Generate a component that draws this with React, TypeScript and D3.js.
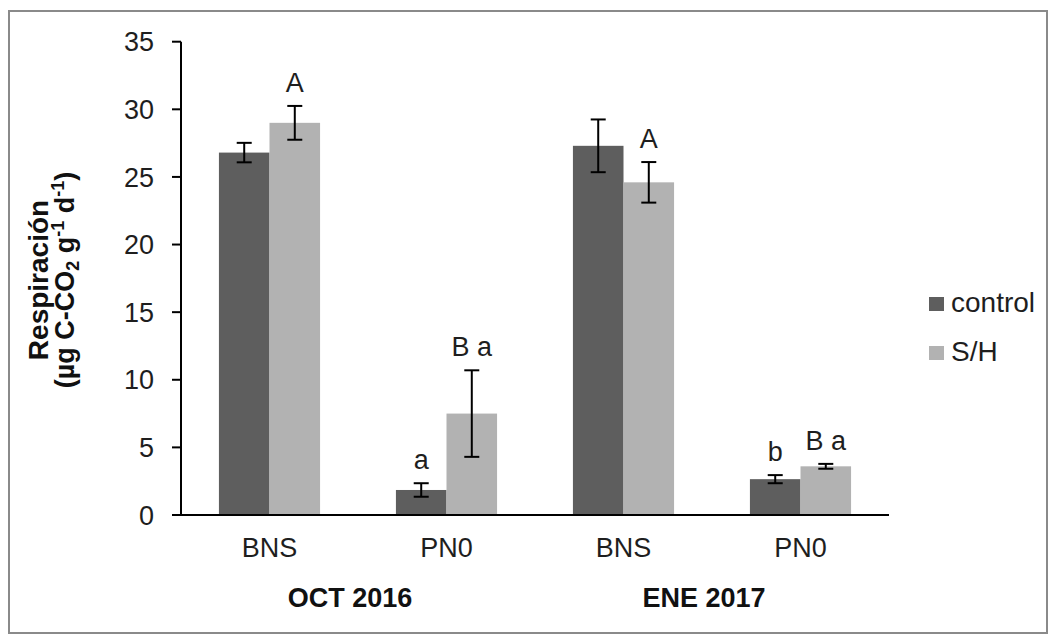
import React from "react";
import * as d3 from "d3";

// ---- data ----
const categoryIds = ["OCT-BNS", "OCT-PN0", "ENE-BNS", "ENE-PN0"];
const categoryLabels = ["BNS", "PN0", "BNS", "PN0"];
const groupLabels = ["OCT 2016", "ENE 2017"];
const groupSpans = [[0, 1], [2, 3]];
const seriesNames = ["control", "S/H"];
const controlValues = [26.8, 1.85, 27.3, 2.65];
const controlErrors = [0.72, 0.5, 1.95, 0.3];
const shValues = [29.0, 7.5, 24.6, 3.6];
const shErrors = [1.25, 3.2, 1.5, 0.18];
const controlLetters = ["", "a", "", "b"];
const shLetters = ["A", "B a", "A", "B a"];
const yTicks = [0, 5, 10, 15, 20, 25, 30, 35];

const seriesColors = ["#5e5e5e", "#b2b2b2"];
const FONT = "'Liberation Sans', Arial, sans-serif";

export default function App() {
  const W = 1055, H = 638;
  const left = 181, right = 889, top = 41.7, bottom = 515;

  const x0 = d3.scaleBand<string>().domain(categoryIds).range([left, right]).paddingInner(0).paddingOuter(0);
  const x1 = d3.scaleBand<string>().domain(seriesNames).range([0, x0.bandwidth()]).paddingInner(0).paddingOuter(0.75);
  const y = d3.scaleLinear().domain([0, 35]).range([bottom, top]);

  const series = [
    { name: seriesNames[0], values: controlValues, errors: controlErrors, letters: controlLetters, color: seriesColors[0] },
    { name: seriesNames[1], values: shValues, errors: shErrors, letters: shLetters, color: seriesColors[1] },
  ];

  const capW = 15;
  const labelGap = 14;
  const txt = "#1e1e1e";

  return (
    <svg width={W} height={H} style={{ position: "absolute", left: 0, top: 0, background: "#fff" }} fontFamily={FONT}>
      <rect x={9} y={11} width={1038} height={622} fill="#fff" stroke="#8a8a8a" strokeWidth={2} />

      {/* bars */}
      {series.map((s) =>
        categoryIds.map((c, i) => {
          const bx = (x0(c) as number) + (x1(s.name) as number);
          const bw = x1.bandwidth();
          const v = s.values[i];
          return (
            <rect key={s.name + c} x={bx} y={y(v)} width={bw} height={y(0) - y(v)} fill={s.color} />
          );
        })
      )}

      {/* error bars + letters */}
      {series.map((s) =>
        categoryIds.map((c, i) => {
          const cx = (x0(c) as number) + (x1(s.name) as number) + x1.bandwidth() / 2;
          const v = s.values[i];
          const e = s.errors[i];
          const yt = y(v + e), yb = y(v - e);
          return (
            <g key={"e" + s.name + c}>
              <line x1={cx} x2={cx} y1={yt} y2={yb} stroke="#000" strokeWidth={2} />
              <line x1={cx - capW / 2} x2={cx + capW / 2} y1={yt} y2={yt} stroke="#000" strokeWidth={2} />
              <line x1={cx - capW / 2} x2={cx + capW / 2} y1={yb} y2={yb} stroke="#000" strokeWidth={2} />
              {s.letters[i] && (
                <text x={cx} y={yt - labelGap} textAnchor="middle" fontSize={27} fill={txt}>
                  {s.letters[i]}
                </text>
              )}
            </g>
          );
        })
      )}

      {/* axes */}
      <line x1={left} x2={left} y1={top} y2={bottom} stroke="#000" strokeWidth={2} />
      <line x1={left - 1} x2={right} y1={bottom} y2={bottom} stroke="#000" strokeWidth={2} />
      {yTicks.map((t) => (
        <g key={"t" + t}>
          <line x1={left - 9} x2={left} y1={y(t)} y2={y(t)} stroke="#000" strokeWidth={2} />
          <text x={154} y={y(t)} dy="0.36em" textAnchor="end" fontSize={27} fill={txt}>
            {t}
          </text>
        </g>
      ))}

      {/* category labels */}
      {categoryIds.map((c, i) => (
        <text key={"c" + c} x={(x0(c) as number) + x0.bandwidth() / 2} y={557} textAnchor="middle" fontSize={27} fill={txt}>
          {categoryLabels[i]}
        </text>
      ))}
      {groupLabels.map((g, gi) => {
        const a = x0(categoryIds[groupSpans[gi][0]]) as number;
        const b = (x0(categoryIds[groupSpans[gi][1]]) as number) + x0.bandwidth();
        return (
          <text key={"g" + g} x={(a + b) / 2 - 8} y={607} textAnchor="middle" fontSize={27} fontWeight="bold" fill="#111">
            {g}
          </text>
        );
      })}

      {/* y title */}
      <g transform="translate(48,280) rotate(-90)">
        <text x={0} y={0} textAnchor="middle" fontSize={28} fontWeight="bold" fill="#111">
          Respiración
        </text>
      </g>
      <g transform="translate(74,280) rotate(-90)">
        <text x={0} y={0} textAnchor="middle" fontSize={27} fontWeight="bold" fill="#111">
          (µg C-CO<tspan fontSize={18} dy={5}>2</tspan>
          <tspan dy={-5}> g</tspan>
          <tspan fontSize={18} dy={-10}>-1</tspan>
          <tspan dy={10}> d</tspan>
          <tspan fontSize={18} dy={-10}>-1</tspan>
          <tspan dy={10}>)</tspan>
        </text>
      </g>

      {/* legend */}
      {series.map((s, i) => (
        <g key={"l" + s.name} transform={`translate(929, ${297 + i * 49})`}>
          <rect x={0} y={0} width={15} height={14} fill={s.color} />
          <text x={22} y={15} fontSize={28} fill={txt}>
            {s.name}
          </text>
        </g>
      ))}
    </svg>
  );
}
